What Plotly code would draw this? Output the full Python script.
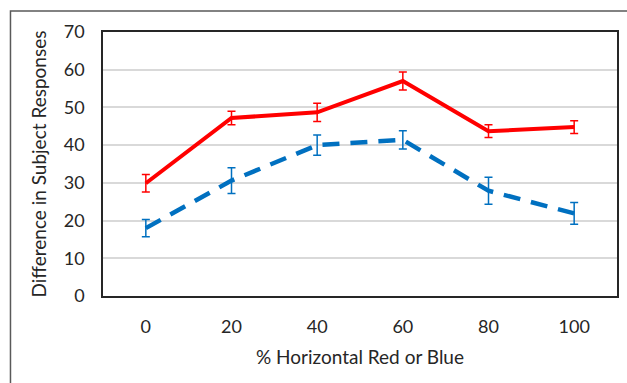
import plotly.graph_objects as go

categories = ["0", "20", "40", "60", "80", "100"]
red_values = [29.9, 47.2, 48.7, 57.0, 43.7, 44.8]
red_errors = [2.3, 1.8, 2.4, 2.4, 1.7, 1.7]
blue_values = [18.0, 30.6, 40.0, 41.4, 27.9, 21.9]
blue_errors = [2.3, 3.4, 2.7, 2.4, 3.6, 2.9]
y_ticks = [0, 10, 20, 30, 40, 50, 60, 70]

FONT = "Lato"
fig = go.Figure()
fig.add_trace(go.Scatter(
    x=categories, y=blue_values, mode="lines",
    line=dict(color="#0070C0", width=4.5, dash="17px,11px"),
    error_y=dict(type="data", array=blue_errors, visible=True,
                 color="#0070C0", thickness=1.5, width=4),
    showlegend=False))
fig.add_trace(go.Scatter(
    x=categories, y=red_values, mode="lines",
    line=dict(color="#FF0000", width=4),
    error_y=dict(type="data", array=red_errors, visible=True,
                 color="#FF0000", thickness=1.5, width=4),
    showlegend=False))

fig.update_layout(
    width=627, height=383,
    margin=dict(l=103, r=8, t=32, b=87),
    paper_bgcolor="white", plot_bgcolor="white",
    font=dict(family=FONT, color="#262626"),
    xaxis=dict(type="category", range=[-0.5, 5.5], showgrid=False,
               showline=True, linecolor="#262626", linewidth=1.5, mirror=True,
               ticks="", tickfont=dict(size=18), ticklabelstandoff=14,
               title=dict(text="% Horizontal Red or Blue", font=dict(size=19), standoff=14)),
    yaxis=dict(range=[0, 70], tickvals=y_ticks, showgrid=True, gridcolor="#D9D9D9", gridwidth=1.5,
               showline=True, linecolor="#262626", linewidth=1.5, mirror=True,
               ticks="", tickfont=dict(size=18), ticklabelstandoff=13, zeroline=False,
               title=dict(text="Difference in Subject Responses", font=dict(size=19), standoff=12)),
    shapes=[dict(type="rect", xref="paper", yref="paper",
                 x0=-0.180, x1=1.06, y0=-0.45, y1=1.0795,
                 line=dict(color="#595959", width=1.5), layer="below")],
)
fig.write_html("out.html")
